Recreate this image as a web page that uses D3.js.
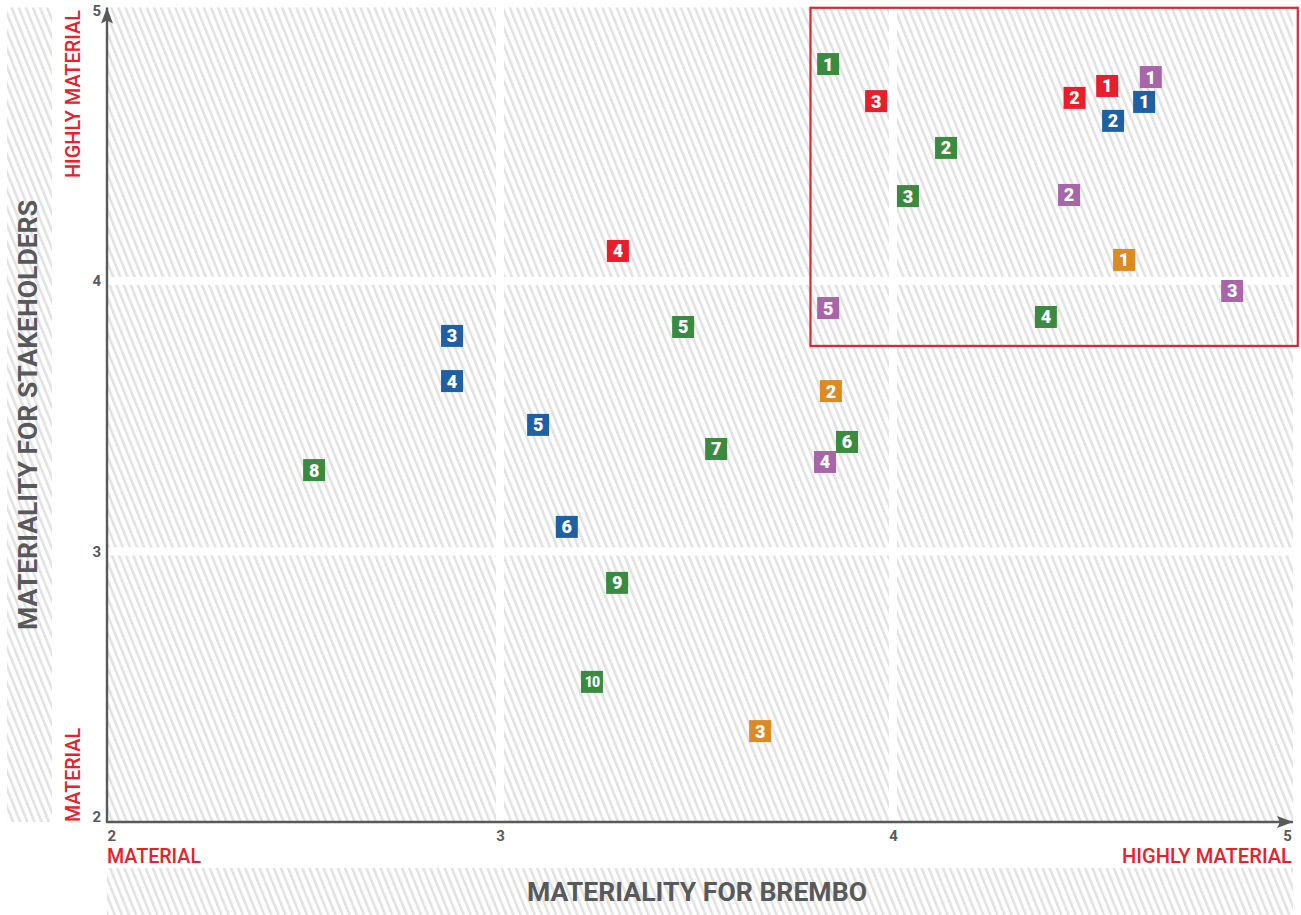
<!DOCTYPE html>
<html>
<head>
<meta charset="utf-8">
<script src="https://cdn.jsdelivr.net/npm/d3@7"></script>
<style>
  html, body { margin: 0; padding: 0; background: #fff; }
  svg { display: block; }
  text { font-family: Roboto, "Open Sans", sans-serif; }
</style>
</head>
<body>
<svg id="chart" width="1301" height="915"></svg>
<script>
// Axis ticks (both axes run from 2 to 5)
const xTicks = [2, 3, 4, 5];
const yTicks = [2, 3, 4, 5];

// Topic groups: [materiality for Brembo, materiality for stakeholders, label]
const greenTopics = [
  [3.835, 4.802, "1"], [4.135, 4.492, "2"], [4.038, 4.314, "3"], [4.389, 3.867, "4"],
  [3.466, 3.830, "5"], [3.883, 3.405, "6"], [3.550, 3.379, "7"], [2.527, 3.301, "8"],
  [3.298, 2.884, "9"], [3.234, 2.518, "10"]
];
const redTopics = [
  [4.545, 4.721, "1"], [4.462, 4.677, "2"], [3.957, 4.665, "3"], [3.300, 4.111, "4"]
];
const blueTopics = [
  [4.639, 4.662, "1"], [4.560, 4.592, "2"], [2.878, 3.797, "3"], [2.878, 3.630, "4"],
  [3.097, 3.468, "5"], [3.170, 3.091, "6"]
];
const purpleTopics = [
  [4.656, 4.754, "1"], [4.448, 4.318, "2"], [4.863, 3.963, "3"], [3.827, 3.331, "4"],
  [3.835, 3.900, "5"]
];
const orangeTopics = [
  [4.588, 4.078, "1"], [3.842, 3.593, "2"], [3.662, 2.336, "3"]
];

const groups = [
  { topics: greenTopics,  color: "#3a8b3f" },
  { topics: redTopics,    color: "#e81f2b" },
  { topics: blueTopics,   color: "#1f5fa3" },
  { topics: purpleTopics, color: "#a865aa" },
  { topics: orangeTopics, color: "#dc8a23" }
];

// Area of highest materiality on both axes
const highlight = { x0: 3.79, x1: 5.03, y0: 3.76, y1: 5.01 };

const AXIS = "#58595b";
const RED = "#e8202a";

const svg = d3.select("#chart");
const x = d3.scaleLinear().domain([2, 5]).range([107, 1286]);
const y = d3.scaleLinear().domain([2, 5]).range([822, 10.5]);

// Diagonal hatch fill
const defs = svg.append("defs");
defs.append("pattern")
  .attr("id", "hatch")
  .attr("patternUnits", "userSpaceOnUse")
  .attr("width", 6.6).attr("height", 20)
  .attr("patternTransform", "rotate(-22)")
  .append("rect")
  .attr("x", 0).attr("y", 0).attr("width", 2.6).attr("height", 20)
  .attr("fill", "#e2e2e2");

const hatch = svg.append("g");

// Plot cells separated by white gutters at the inner ticks
const gap = 4;
const xEdge = [x(2), x(5) + 7];
const yEdge = [y(2), y(5) - 3];
for (let i = 0; i < xTicks.length - 1; i++) {
  for (let j = 0; j < yTicks.length - 1; j++) {
    const l = i === 0 ? xEdge[0] : x(xTicks[i]) + gap;
    const r = i === xTicks.length - 2 ? xEdge[1] : x(xTicks[i + 1]) - gap;
    const b = j === 0 ? yEdge[0] : y(yTicks[j]) - gap;
    const t = j === yTicks.length - 2 ? yEdge[1] : y(yTicks[j + 1]) + gap;
    hatch.append("rect")
      .attr("x", l).attr("y", t).attr("width", r - l).attr("height", b - t)
      .attr("fill", "url(#hatch)");
  }
}
// Side strip behind the vertical title and bottom strip behind the horizontal title
hatch.append("rect")
  .attr("x", 7).attr("y", yEdge[1]).attr("width", 45).attr("height", yEdge[0] - yEdge[1])
  .attr("fill", "url(#hatch)");
hatch.append("rect")
  .attr("x", xEdge[0]).attr("y", 868).attr("width", xEdge[1] - xEdge[0]).attr("height", 47)
  .attr("fill", "url(#hatch)");

// Axis arrowheads
defs.append("marker")
  .attr("id", "arrow")
  .attr("viewBox", "0 0 16 12")
  .attr("refX", 16).attr("refY", 6)
  .attr("markerWidth", 16).attr("markerHeight", 12)
  .attr("markerUnits", "userSpaceOnUse")
  .attr("orient", "auto")
  .append("path")
  .attr("d", "M0,0 L16,6 L0,12 L3,6 Z")
  .attr("fill", AXIS);

// Tick labels via d3 axes
const xAxis = svg.append("g")
  .attr("transform", `translate(0,${y(2)})`)
  .call(d3.axisBottom(x).tickValues(xTicks).tickSize(0).tickPadding(8).tickFormat(d3.format("d")));
const yAxis = svg.append("g")
  .attr("transform", `translate(${x(2)},0)`)
  .call(d3.axisLeft(y).tickValues(yTicks).tickSize(0).tickPadding(6).tickFormat(d3.format("d")));
[xAxis, yAxis].forEach(g => {
  g.select(".domain").remove();
  g.selectAll("text")
    .attr("fill", AXIS)
    .style("font-family", "Roboto, sans-serif")
    .style("font-size", "15px")
    .style("font-weight", "700");
});
xAxis.selectAll(".tick text")
  .attr("text-anchor", d => d === xTicks[0] ? "start" : "middle")
  .attr("dx", d => d === xTicks[xTicks.length - 1] ? 1 : 0);
yAxis.selectAll(".tick text")
  .attr("dy", d => d === yTicks[0] ? "-0.05em" : "0.32em");

// Axis lines with arrows
svg.append("line")
  .attr("x1", x(2)).attr("y1", y(2))
  .attr("x2", x(2)).attr("y2", y(5) - 3)
  .attr("stroke", AXIS).attr("stroke-width", 2.4)
  .attr("marker-end", "url(#arrow)");
svg.append("line")
  .attr("x1", x(2) - 1).attr("y1", y(2))
  .attr("x2", x(5) + 7).attr("y2", y(2))
  .attr("stroke", AXIS).attr("stroke-width", 2.4)
  .attr("marker-end", "url(#arrow)");

// Highlighted area
svg.append("rect")
  .attr("x", x(highlight.x0)).attr("y", y(highlight.y1))
  .attr("width", x(highlight.x1) - x(highlight.x0))
  .attr("height", y(highlight.y0) - y(highlight.y1))
  .attr("fill", "none")
  .attr("stroke", "#d52a33").attr("stroke-width", 2.2);

// Axis titles
svg.append("text")
  .attr("transform", "translate(37,415) rotate(-90)")
  .attr("text-anchor", "middle")
  .attr("fill", AXIS)
  .attr("textLength", 430).attr("lengthAdjust", "spacingAndGlyphs")
  .style("font-size", "25px").style("font-weight", "700")
  .text("MATERIALITY FOR STAKEHOLDERS");
svg.append("text")
  .attr("x", 697).attr("y", 901)
  .attr("text-anchor", "middle")
  .attr("fill", AXIS)
  .attr("textLength", 340).attr("lengthAdjust", "spacingAndGlyphs")
  .style("font-size", "25px").style("font-weight", "700")
  .text("MATERIALITY FOR BREMBO");

// Scale end labels
const endLabel = (sel) => sel
  .attr("fill", RED)
  .style("font-size", "20px").style("font-weight", "500");
svg.append("text")
  .attr("transform", "translate(80,10) rotate(-90)")
  .attr("text-anchor", "end")
  .attr("textLength", 168).attr("lengthAdjust", "spacingAndGlyphs")
  .call(endLabel)
  .text("HIGHLY MATERIAL");
svg.append("text")
  .attr("transform", "translate(80,822) rotate(-90)")
  .attr("text-anchor", "start")
  .attr("textLength", 94).attr("lengthAdjust", "spacingAndGlyphs")
  .call(endLabel)
  .text("MATERIAL");
svg.append("text")
  .attr("x", 107).attr("y", 863)
  .attr("textLength", 94).attr("lengthAdjust", "spacingAndGlyphs")
  .call(endLabel)
  .text("MATERIAL");
svg.append("text")
  .attr("x", 1292).attr("y", 863)
  .attr("text-anchor", "end")
  .attr("textLength", 170).attr("lengthAdjust", "spacingAndGlyphs")
  .call(endLabel)
  .text("HIGHLY MATERIAL");

// Topic markers
const S = 22;
const markers = svg.append("g");
groups.forEach(g => {
  const m = markers.append("g").selectAll("g")
    .data(g.topics)
    .join("g")
    .attr("transform", d => `translate(${x(d[0])},${y(d[1])})`);
  m.append("rect")
    .attr("x", -S / 2).attr("y", -S / 2)
    .attr("width", S).attr("height", S)
    .attr("fill", g.color);
  m.append("text")
    .attr("text-anchor", "middle")
    .attr("dy", "0.36em")
    .attr("fill", "#fff")
    .style("font-size", d => d[2].length > 1 ? "14px" : "18px")
    .style("font-weight", "900")
    .style("letter-spacing", d => d[2].length > 1 ? "-1px" : "0")
    .text(d => d[2]);
});
</script>
</body>
</html>
